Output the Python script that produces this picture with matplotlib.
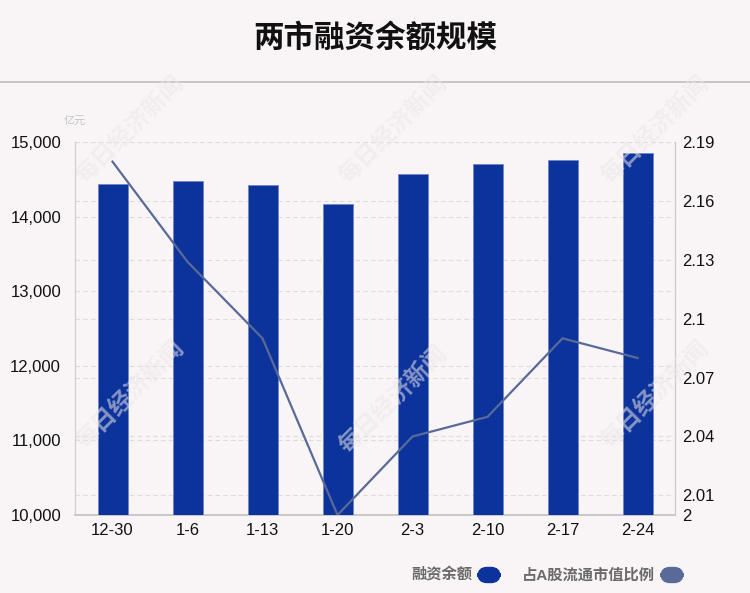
import matplotlib
matplotlib.use("Agg")
import matplotlib.pyplot as plt
from matplotlib.patches import FancyBboxPatch
from matplotlib.ticker import FuncFormatter

plt.rcParams["font.family"] = ["Liberation Sans", "Noto Sans CJK SC", "DejaVu Sans"]

# data
dates = ["12-30", "1-6", "1-13", "1-20", "2-3", "2-10", "2-17", "2-24"]
balance = [14432, 14480, 14418, 14168, 14571, 14705, 14755, 14853]   # 亿元
ratio = [2.18, 2.129, 2.09, 2.00, 2.04, 2.05, 2.09, 2.08]            # %
left_ticks = [10000, 11000, 12000, 13000, 14000, 15000]
right_ticks = [2, 2.01, 2.04, 2.07, 2.1, 2.13, 2.16, 2.19]

BG = "#f9f5f6"
BAR = "#0c339b"
LINE = "#5a6a98"
GRID = "#dcdcdc"
INK = "#111111"

fig = plt.figure(figsize=(7.5, 5.93), dpi=100, facecolor=BG)
ax = fig.add_axes([0.1, 0.1315, 0.8, 0.629], facecolor=BG)
ax2 = ax.twinx()

x = list(range(len(dates)))
ax2.set_ylim(2, 2.19)
ax2.set_yticks(right_ticks)
ax2.set_yticklabels([f"{t:g}" for t in right_ticks])
ax2.grid(axis="y", color=GRID, ls=(0, (4, 3)), lw=0.8)
ax2.tick_params(length=0, labelsize=12, colors=INK, pad=5)

ax.bar(x, balance, width=0.4, color=BAR, edgecolor="#6f86c9", linewidth=0.6, zorder=3)
ax.set_xlim(-0.5, len(dates) - 0.5)
ax.set_ylim(10000, 15000)
ax.set_yticks(left_ticks)
ax.yaxis.set_major_formatter(FuncFormatter(lambda v, _: f"{v:,.0f}"))
ax.set_xticks(x)
ax.set_xticklabels(dates)
ax.grid(axis="y", color=GRID, ls=(0, (4, 3)), lw=0.8, zorder=0)
ax.tick_params(axis="y", length=0, labelsize=12, colors=INK, pad=10)
ax.tick_params(axis="x", length=0, labelsize=12, colors=INK, pad=6)

# ratio line sits on top of the bars, drawn in the right axis' data coordinates
ax.plot(x, ratio, color=LINE, lw=1.6, zorder=4, transform=ax2.transData)

for a in (ax, ax2):
    a.spines["top"].set_visible(False)
    a.spines["left"].set_color("#d0d0d0")
    a.spines["right"].set_color("#c8c8c8")
    a.spines["bottom"].set_color("#c8c8c8")
    a.spines["bottom"].set_linewidth(1.2)
ax.set_zorder(ax2.get_zorder() + 1)
ax.patch.set_visible(False)
ax2.patch.set_visible(True)
ax2.patch.set_facecolor(BG)

# title and separator
fig.text(0.5, 0.935, "两市融资余额规模", ha="center", va="center",
         fontsize=22, fontweight="bold", color=INK)
fig.add_artist(plt.Line2D([0, 1], [0.862, 0.862], color="#bdbdbd", lw=1.2,
                          transform=fig.transFigure))
fig.text(0.1, 0.797, "亿元", ha="center", va="center", fontsize=8, color="#c4c4c4")

# watermarks
for wx, wy in [(130, 130), (393, 130), (655, 130), (130, 395), (393, 400), (655, 395)]:
    fig.text(wx / 750, 1 - wy / 593, "每日经济新闻", ha="center", va="center",
             rotation=45, fontsize=17, fontweight="bold", color="#ece7e8", alpha=0.55, zorder=10)

# legend
def pill(cx, cy, color):
    w, h = 22 / 750, 15 / 593
    fig.add_artist(FancyBboxPatch((cx - w / 2, cy - h / 2), w, h,
                                  boxstyle="round,pad=0,rounding_size=0.012",
                                  transform=fig.transFigure, color=color,
                                  mutation_aspect=750 / 593))

ly = 1 - 575 / 593
fig.text(472 / 750, ly, "融资余额", ha="right", va="center", fontsize=11,
         fontweight="bold", color="#6a6a6a")
pill(489 / 750, ly, BAR)
fig.text(655 / 750, ly, "占A股流通市值比例", ha="right", va="center", fontsize=11,
         fontweight="bold", color="#6a6a6a")
pill(672 / 750, ly, LINE)

fig.savefig("out.png", dpi=100, facecolor=BG)
